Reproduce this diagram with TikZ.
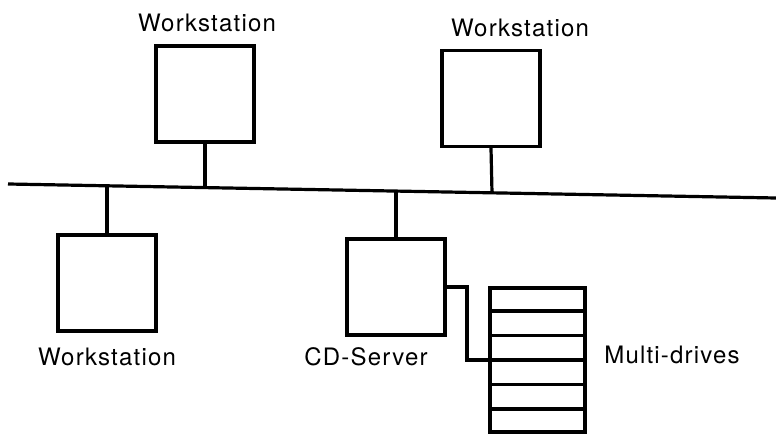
\documentclass[tikz,border=0pt]{standalone}
\usepackage{fontspec}
\setmainfont{TeX Gyre Heros}[LetterSpace=5]
\usetikzlibrary{calc}
\begin{document}
\begin{tikzpicture}[x=1pt,y=-1pt,
  line width=3.2pt,
  box/.style={draw,line width=3.2pt,minimum width=98pt,minimum height=96pt,inner sep=0pt},
  lbl/.style={font=\fontsize{24}{28}\selectfont,inner sep=0pt}]
\useasboundingbox (0,0) rectangle (776,435);
% bus
\coordinate (busL) at (8,184);
\coordinate (busR) at (776,198);
\draw (busL) -- (busR);
\coordinate (t1) at (205,187.6);
\coordinate (t2) at (492,192.8);
\coordinate (t3) at (107,185.8);
\coordinate (t4) at (396,191.1);
% boxes
\node[box] (ws1) at (205,94) {};
\node[box] (ws2) at (491,98.5) {};
\node[box] (ws3) at (107,283) {};
\node[box] (cd) at (396,287) {};
\node[draw,line width=3.2pt,minimum width=95pt,minimum height=144pt,inner sep=0pt] (md) at (537.5,360) {};
\foreach \k in {1,...,5}{
  \draw ($(md.north west)!\k/6!(md.south west)$) -- ($(md.north east)!\k/6!(md.south east)$);
}
% stems
\draw (ws1.south) -- (t1);
\draw (ws2.south) -- (t2);
\draw (t3) -- (ws3.north);
\draw (t4) -- (cd.north);
\coordinate (j) at (467,320);
\draw (cd.east) -| (j) |- (md.west);
% labels
\node[lbl] (l1) at (207,23) {Workstation};
\node[lbl] (l2) at (520,28) {Workstation};
\node[lbl] (l3) at (107,357) {Workstation};
\node[lbl] (l4) at (366,357) {CD-Server};
\node[lbl] (l5) at (672,355) {Multi-drives};
\end{tikzpicture}
\end{document}
